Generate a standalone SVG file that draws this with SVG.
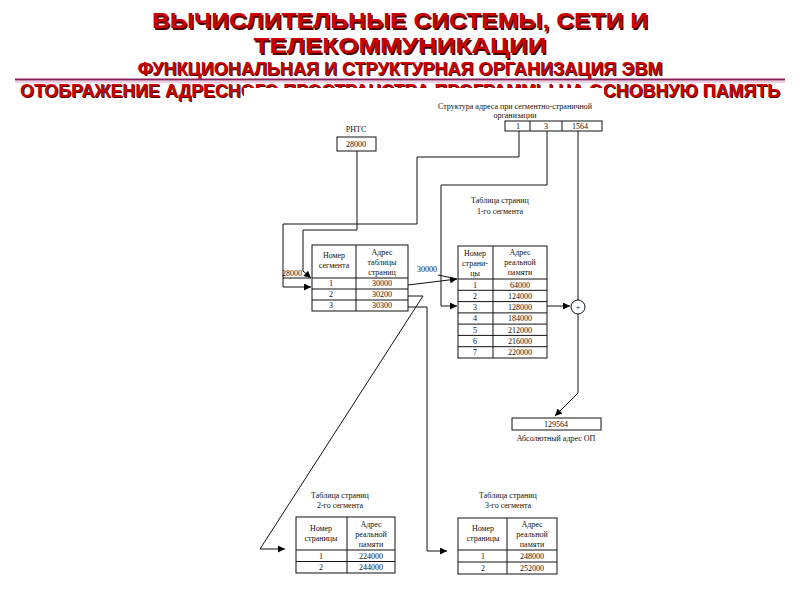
<svg xmlns="http://www.w3.org/2000/svg" width="800" height="600" viewBox="0 0 800 600">
<defs>
<marker id="ah" viewBox="0 0 10 10" refX="10" refY="5" markerWidth="9" markerHeight="7" markerUnits="userSpaceOnUse" orient="auto">
<path d="M0,0 L10,5 L0,10 z" fill="#000"/>
</marker>
</defs>
<style>
.t{font-family:"Liberation Sans",Arial,sans-serif;font-weight:bold;text-anchor:middle}
.sh{fill:#4a0000}
.fg{fill:#c80000}
.d{font-family:"Liberation Serif","Times New Roman",serif;font-size:8px;fill:#111;text-anchor:middle}
.b{fill:#fff;stroke:#111;stroke-width:1}
.l{fill:none;stroke:#111;stroke-width:1}
.c{fill:none;stroke:#111;stroke-width:1}
</style>
<rect width="800" height="600" fill="#fff"/>
<g id="title">
<text class="t sh" x="401.5" y="29.5" font-size="22" textLength="496" lengthAdjust="spacingAndGlyphs">ВЫЧИСЛИТЕЛЬНЫЕ СИСТЕМЫ, СЕТИ И</text>
<text class="t fg" x="400" y="28" font-size="22" textLength="496" lengthAdjust="spacingAndGlyphs">ВЫЧИСЛИТЕЛЬНЫЕ СИСТЕМЫ, СЕТИ И</text>
<text class="t sh" x="401.5" y="54.5" font-size="22" textLength="293" lengthAdjust="spacingAndGlyphs">ТЕЛЕКОММУНИКАЦИИ</text>
<text class="t fg" x="400" y="53" font-size="22" textLength="293" lengthAdjust="spacingAndGlyphs">ТЕЛЕКОММУНИКАЦИИ</text>
<text class="t sh" x="401" y="76" font-size="17.5" textLength="525" lengthAdjust="spacingAndGlyphs">ФУНКЦИОНАЛЬНАЯ И СТРУКТУРНАЯ ОРГАНИЗАЦИЯ ЭВМ</text>
<text class="t fg" x="400" y="75" font-size="17.5" textLength="525" lengthAdjust="spacingAndGlyphs">ФУНКЦИОНАЛЬНАЯ И СТРУКТУРНАЯ ОРГАНИЗАЦИЯ ЭВМ</text>
<line x1="15" y1="79.5" x2="785" y2="79.5" stroke="#8a1f5c" stroke-width="2"/>
<line x1="15" y1="82" x2="785" y2="82" stroke="#d9a0c8" stroke-width="1"/>
<text class="t sh" x="401" y="98" font-size="18" textLength="760" lengthAdjust="spacingAndGlyphs">ОТОБРАЖЕНИЕ АДРЕСНОГО ПРОСТРАНСТВА ПРОГРАММЫ НА ОСНОВНУЮ ПАМЯТЬ</text>
<text class="t fg" x="400" y="97" font-size="18" textLength="760" lengthAdjust="spacingAndGlyphs">ОТОБРАЖЕНИЕ АДРЕСНОГО ПРОСТРАНСТВА ПРОГРАММЫ НА ОСНОВНУЮ ПАМЯТЬ</text>
</g>
<rect x="244" y="88" width="360" height="500" fill="#fff"/>
<g id="connectors">
<polyline class="c" points="519,131 519,157 417,157 417,224 283,224 283,287 311,287" marker-end="url(#ah)"/>
<polyline class="c" points="357,151 357,230 303,230 303,271 311,278" marker-end="url(#ah)"/>
<line class="c" x1="283" y1="278" x2="311" y2="278"/>
<polyline class="c" points="547,131 547,185 441,185 441,306 457,306" marker-end="url(#ah)"/>
<line class="c" x1="408" y1="285" x2="457" y2="279" marker-end="url(#ah)"/>
<line class="c" x1="438" y1="275" x2="457" y2="279"/>
<line class="c" x1="547" y1="306" x2="570" y2="306" marker-end="url(#ah)"/>
<line class="c" x1="578" y1="131" x2="578" y2="300"/>
<polyline class="c" points="578,314 578,393 555,416" marker-end="url(#ah)"/>
<polyline class="c" points="408,296 423,296 260,549 285,549" marker-end="url(#ah)"/>
<polyline class="c" points="408,307 427,307 427,551 447,551" marker-end="url(#ah)"/>
</g>
<g id="address-structure">
<text class="d" x="515" y="109">Структура адреса при сегментно-страничной</text>
<text class="d" x="515" y="117.5">организации</text>
<rect class="b" x="505" y="121" width="97" height="10"/>
<line class="l" x1="530" y1="121" x2="530" y2="131"/>
<line class="l" x1="562" y1="121" x2="562" y2="131"/>
<text class="d" x="518" y="129">1</text>
<text class="d" x="546" y="129">3</text>
<text class="d" x="580" y="129">1564</text>
</g>
<g id="rnts">
<text class="d" x="356" y="132">РНТС</text>
<rect class="b" x="337" y="137" width="39" height="14"/>
<text class="d" x="356" y="147">28000</text>
</g>
<g id="label-28000"><text class="d" x="292" y="276">28000</text></g>
<g id="label-30000"><text class="d" x="427" y="272">30000</text></g>
<g id="segment-table">
<rect class="b" x="312" y="245" width="96" height="66"/>
<line class="l" x1="356" y1="245" x2="356" y2="311"/>
<line class="l" x1="312" y1="278" x2="408" y2="278"/>
<line class="l" x1="312" y1="289" x2="408" y2="289"/>
<line class="l" x1="312" y1="300" x2="408" y2="300"/>
<text class="d" x="334" y="258">Номер</text>
<text class="d" x="334" y="268">сегмента</text>
<text class="d" x="382" y="255">Адрес</text>
<text class="d" x="382" y="265">таблицы</text>
<text class="d" x="382" y="275">страниц</text>
<text class="d" x="331" y="286">1</text><text class="d" x="382" y="286">30000</text>
<text class="d" x="331" y="297">2</text><text class="d" x="382" y="297">30200</text>
<text class="d" x="331" y="308">3</text><text class="d" x="382" y="308">30300</text>
</g>
<g id="page-table-1">
<text class="d" x="500" y="203">Таблица страниц</text>
<text class="d" x="500" y="214">1-го сегмента</text>
<rect class="b" x="458" y="246" width="89" height="112"/>
<line class="l" x1="493" y1="246" x2="493" y2="358"/>
<line class="l" x1="458" y1="279" x2="547" y2="279"/>
<line class="l" x1="458" y1="290.3" x2="547" y2="290.3"/>
<line class="l" x1="458" y1="301.6" x2="547" y2="301.6"/>
<line class="l" x1="458" y1="312.9" x2="547" y2="312.9"/>
<line class="l" x1="458" y1="324.1" x2="547" y2="324.1"/>
<line class="l" x1="458" y1="335.4" x2="547" y2="335.4"/>
<line class="l" x1="458" y1="346.7" x2="547" y2="346.7"/>
<text class="d" x="475" y="256">Номер</text>
<text class="d" x="475" y="266">страни-</text>
<text class="d" x="475" y="276">цы</text>
<text class="d" x="520" y="255">Адрес</text>
<text class="d" x="520" y="265">реальной</text>
<text class="d" x="520" y="275">памяти</text>
<text class="d" x="475" y="287.5">1</text><text class="d" x="520" y="287.5">64000</text>
<text class="d" x="475" y="298.8">2</text><text class="d" x="520" y="298.8">124000</text>
<text class="d" x="475" y="310">3</text><text class="d" x="520" y="310">128000</text>
<text class="d" x="475" y="321.3">4</text><text class="d" x="520" y="321.3">184000</text>
<text class="d" x="475" y="332.6">5</text><text class="d" x="520" y="332.6">212000</text>
<text class="d" x="475" y="343.9">6</text><text class="d" x="520" y="343.9">216000</text>
<text class="d" x="475" y="355.2">7</text><text class="d" x="520" y="355.2">220000</text>
</g>
<g id="adder">
<circle class="b" cx="578" cy="307" r="7"/>
<text class="d" x="578" y="310" font-size="7">+</text>
</g>
<g id="absolute-address">
<rect class="b" x="512" y="418" width="89" height="12"/>
<text class="d" x="556" y="427">129564</text>
<text class="d" x="556" y="441">Абсолютный адрес ОП</text>
</g>
<g id="page-table-2">
<text class="d" x="340" y="498">Таблица страниц</text>
<text class="d" x="340" y="508">2-го сегмента</text>
<rect class="b" x="296" y="517" width="99" height="56"/>
<line class="l" x1="347" y1="517" x2="347" y2="573"/>
<line class="l" x1="296" y1="550" x2="395" y2="550"/>
<line class="l" x1="296" y1="561.5" x2="395" y2="561.5"/>
<text class="d" x="321" y="531">Номер</text>
<text class="d" x="321" y="541">страницы</text>
<text class="d" x="371" y="527">Адрес</text>
<text class="d" x="371" y="537">реальной</text>
<text class="d" x="371" y="547">памяти</text>
<text class="d" x="321" y="558.5">1</text><text class="d" x="371" y="558.5">224000</text>
<text class="d" x="321" y="570">2</text><text class="d" x="371" y="570">244000</text>
</g>
<g id="page-table-3">
<text class="d" x="508" y="498">Таблица страниц</text>
<text class="d" x="508" y="508">3-го сегмента</text>
<rect class="b" x="458" y="518" width="99" height="56"/>
<line class="l" x1="507" y1="518" x2="507" y2="574"/>
<line class="l" x1="458" y1="550" x2="557" y2="550"/>
<line class="l" x1="458" y1="562" x2="557" y2="562"/>
<text class="d" x="483" y="531">Номер</text>
<text class="d" x="483" y="541">страницы</text>
<text class="d" x="532" y="527">Адрес</text>
<text class="d" x="532" y="537">реальной</text>
<text class="d" x="532" y="547">памяти</text>
<text class="d" x="483" y="559">1</text><text class="d" x="532" y="559">248000</text>
<text class="d" x="483" y="571">2</text><text class="d" x="532" y="571">252000</text>
</g>
</svg>
